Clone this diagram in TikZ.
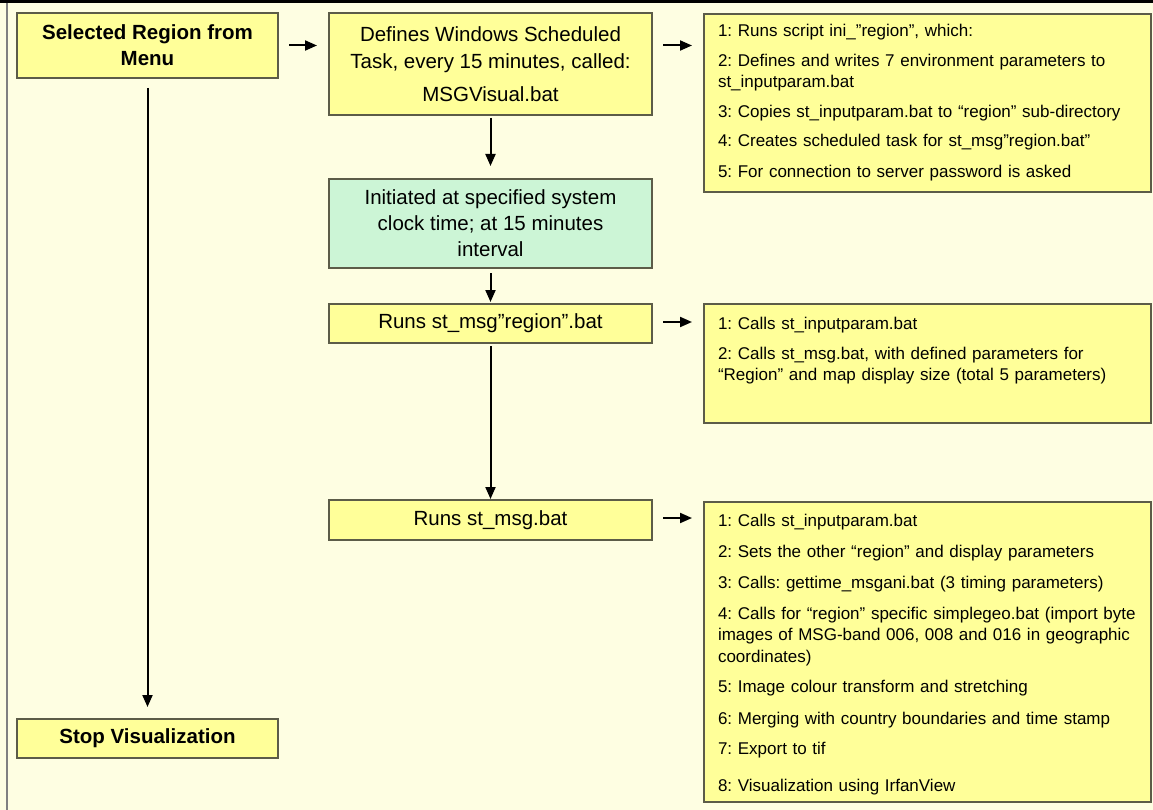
\documentclass[tikz,border=0pt]{standalone}
\usepackage{fontspec}
\setmainfont{Liberation Sans}
\usetikzlibrary{arrows.meta}
\definecolor{paper}{RGB}{254,254,226}
\definecolor{boxyellow}{RGB}{255,255,153}
\definecolor{boxgreen}{RGB}{204,245,214}
\definecolor{boxline}{RGB}{92,92,72}
\newcommand{\flowfont}{\fontsize{20.5}{26}\selectfont}
\newcommand{\listfont}{\frenchspacing\fontsize{17}{21.5}\selectfont}

\begin{document}
\begin{tikzpicture}[x=1pt,y=-1pt,
    flow/.style={draw=boxline,line width=2pt,fill=boxyellow,font=\flowfont,align=center,
                 minimum width=323pt,inner sep=0pt},
    list/.style={draw=boxline,line width=2pt,fill=boxyellow,font=\listfont,align=left,
                 text width=425pt,inner xsep=11pt,inner ysep=9pt,anchor=north west},
    arr/.style={-{Triangle[length=12pt,width=10pt]},line width=2pt,shorten <=10pt,shorten >=11pt}]
  \fill[paper] (0,0) rectangle (1153,810);
  \useasboundingbox (0,0) rectangle (1153,810);
  \draw[line width=3pt] (0,2) -- (1153,2);
  \draw[gray,line width=2pt] (7,3) -- (7,810);

  \node[flow,font=\flowfont\bfseries,minimum width=261pt,minimum height=65pt] (sel) at (147.5,45.5) {Selected Region from\\Menu};
  \node[flow,font=\flowfont\bfseries,minimum width=261pt,minimum height=39pt] (stop) at (147.5,738.5) {Stop Visualization};

  \node[flow,minimum height=102pt] (def) at (490.5,64) {Defines Windows Scheduled\\[1.5pt]Task, every 15 minutes, called:\\[7pt]MSGVisual.bat};
  \node[flow,fill=boxgreen,minimum height=89pt] (init) at (490.5,223.5) {Initiated at specified system\\clock time; at 15 minutes\\interval};
  \node[flow,minimum height=39pt] (rsr) at (490.5,323.5) {Runs st\_msg”region”.bat};
  \node[flow,minimum height=40pt] (rs) at (490.5,520) {Runs st\_msg.bat};

  \node[list,text height=14pt,text depth=146pt] (inis) at (703,13) {\hspace{3pt}1: Runs script ini\_”region”, which:\\[8pt]
    \hspace{3pt}2: Defines and writes 7 environment parameters to\\\hspace{3pt}st\_inputparam.bat\\[8pt]
    \hspace{3pt}3: Copies st\_inputparam.bat to “region” sub-directory\\[8pt]
    \hspace{3pt}4: Creates scheduled task for st\_msg”region.bat”\\[9pt]
    \hspace{3pt}5: For connection to server password is asked};
  \node[list,text height=16pt,text depth=85pt] (calls) at (703,303) {\hspace{3pt}1: Calls st\_inputparam.bat\\[8.5pt]
    \hspace{3pt}2: Calls st\_msg.bat, with defined parameters for\\\hspace{3pt}“Region” and map display size (total 5 parameters)};
  \node[list,text height=15pt,text depth=267pt] (steps) at (703,501) {\hspace{3pt}1: Calls st\_inputparam.bat\\[9.5pt]
    \hspace{3pt}2: Sets the other “region” and display parameters\\[9.5pt]
    \hspace{3pt}3: Calls: gettime\_msgani.bat (3 timing parameters)\\[9.5pt]
    \hspace{3pt}4: Calls for “region” specific simplegeo.bat (import byte\\\hspace{3pt}images of MSG-band 006, 008 and 016 in geographic\\\hspace{3pt}coordinates)\\[9pt]
    \hspace{3pt}5: Image colour transform and stretching\\[10pt]
    \hspace{3pt}6: Merging with country boundaries and time stamp\\[9pt]
    \hspace{3pt}7: Export to tif\\[15.5pt]
    \hspace{3pt}8: Visualization using IrfanView};

  \draw[arr] (sel.east) -- (sel -| def.west);
  \draw[arr] (def.east |- sel) -- (inis.west |- sel);
  \draw[arr] ([yshift=1.5pt]rsr.east) -- ([yshift=1.5pt]rsr.east -| calls.west);
  \draw[arr] ([yshift=2pt]rs.east) -- ([yshift=2pt]rs.east -| steps.west);
  \draw[arr,shorten <=2pt,shorten >=12pt] (def.south) -- (init.north);
  \draw[arr,shorten <=4pt,shorten >=1pt] (init.south) -- (rsr.north);
  \draw[arr,shorten <=2pt,shorten >=0pt] (rsr.south) -- (rs.north);
  \draw[arr,shorten <=9pt,shorten >=11pt] (sel.south) -- (stop.north);
\end{tikzpicture}
\end{document}
